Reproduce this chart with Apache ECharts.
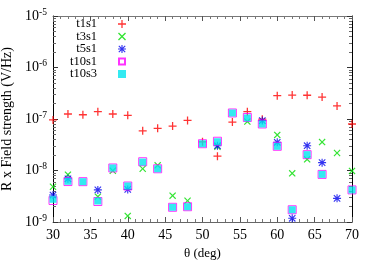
<!DOCTYPE html>
<html><head><meta charset="utf-8">
<script src="https://cdn.jsdelivr.net/npm/echarts@6/dist/echarts.min.js"></script>
<style>html,body{margin:0;padding:0;background:#fff}#c{width:374px;height:262px}</style>
</head><body><div id="c"></div>
<script>
const angles = [30,32,34,36,38,40,42,44,46,48,50,52,54,56,58,60,62,64,66,68,70];
const t1s1 = [9.6e-8,1.25e-7,1.21e-7,1.39e-7,1.25e-7,1.18e-7,5.9e-8,6.6e-8,7.3e-8,9.4e-8,3.6e-8,1.9e-8,8.7e-8,1.39e-7,9.9e-8,2.83e-7,2.92e-7,2.89e-7,2.67e-7,1.79e-7,8.0e-8];
const t3s1 = [4.84e-9,8.3e-9,null,3.1e-9,9.9e-9,1.31e-9,1.08e-8,1.26e-8,3.24e-9,2.59e-9,null,2.9e-8,null,8.9e-8,null,4.9e-8,8.8e-9,1.65e-8,3.57e-8,2.19e-8,9.8e-9];
const t5s1 = [3.34e-9,6.9e-9,null,4.2e-9,null,4.3e-9,null,null,null,null,null,3.03e-8,null,null,9.3e-8,3.53e-8,1.18e-9,3.03e-8,1.42e-8,2.88e-9,null];
const t10s1 = [2.62e-9,6.1e-9,6.07e-9,2.5e-9,1.12e-8,5.0e-9,1.48e-8,1.08e-8,1.93e-9,1.98e-9,3.31e-8,3.7e-8,1.31e-7,1.07e-7,8.0e-8,2.95e-8,1.73e-9,2.03e-8,8.4e-9,null,4.2e-9];
const t10s3 = [2.76e-9,6.17e-9,6.07e-9,2.56e-9,1.12e-8,5.0e-9,1.46e-8,1.08e-8,1.93e-9,1.98e-9,3.31e-8,3.62e-8,1.31e-7,1.05e-7,8.0e-8,2.95e-8,1.73e-9,2.03e-8,8.4e-9,null,4.2e-9];
const seriesNames = ['t1s1','t3s1','t5s1','t10s1','t10s3'];
const xTitle = 'θ (deg)';
const yTitle = 'R x Field strength (V/Hz)';

const FONT = 'Liberation Serif';
const PLUS = 'path://M4.2,0H5.8V4.2H10V5.8H5.8V10H4.2V5.8H0V4.2H4.2Z';
const CROSS = 'path://M0,1.2L1.2,0L5,3.8L8.8,0L10,1.2L6.2,5L10,8.8L8.8,10L5,6.2L1.2,10L0,8.8L3.8,5Z';
const STAR = 'path://M4.3,0H5.7V10H4.3Z M0,4.3H10V5.7H0Z M0.5,1.5L1.5,0.5L9.5,8.5L8.5,9.5Z M8.5,0.5L9.5,1.5L1.5,9.5L0.5,8.5Z';

const minorVals = [];
for (let d=-9; d<=-6; d++) for (let k=2; k<=9; k++) minorVals.push(k*Math.pow(10,d));

function pts(arr){ return angles.map((a,i)=>arr[i]==null?null:[a,arr[i]]).filter(p=>p); }

const styles = [
  {symbol:PLUS, symbolSize:8, itemStyle:{color:'#ff0000'}},
  {symbol:CROSS, symbolSize:7, itemStyle:{color:'#00dd00'}},
  {symbol:STAR, symbolSize:8, itemStyle:{color:'#0000ee'}},
  {symbol:'rect', symbolSize:8, itemStyle:{color:'rgba(0,0,0,0)', borderColor:'#ff00ff', borderWidth:1}},
  {symbol:'rect', symbolSize:7, itemStyle:{color:'#00e5ee'}}
];
const datas = [t1s1,t3s1,t5s1,t10s1,t10s3];

const series = seriesNames.map((n,i)=>Object.assign({
  name:n, type:'scatter', xAxisIndex:0, yAxisIndex:0, data:pts(datas[i]), animation:false
}, styles[i]));

const legends = seriesNames.map((n,i)=>({
  data:[{name:n, icon: styles[i].symbol}],
  orient:'vertical', align:'right',
  right: 248, top: 17.5 + i*12.5,
  itemWidth: i===3 ? 6 : 8, itemHeight: i===3 ? 6 : 8, padding:0,
  textStyle:{fontFamily:FONT, fontSize:12.5, color:'#000', padding:[0, i===3 ? 17 : 16, 0, 0]}
}));

const xBase = {type:'value', min:30, max:70, interval:5, gridIndex:0,
  splitLine:{show:false}};
const yBase = {type:'log', logBase:10, min:1e-9, max:1e-5, gridIndex:0, splitLine:{show:false}};

const option = {
  animation:false,
  grid:{left:53, right:22, top:16, bottom:40, containLabel:false, outerBoundsMode:'none'},
  legend: legends,
  xAxis:[
    Object.assign({}, xBase, {position:'bottom', name:xTitle, nameLocation:'middle', nameGap:20,
      nameTextStyle:{fontFamily:FONT, fontSize:13, color:'#000'},
      axisLine:{lineStyle:{color:'#666', width:1}},
      axisTick:{inside:true, length:5, lineStyle:{color:'#555'}},
      minorTick:{show:true, splitNumber:5, length:3, lineStyle:{color:'#777'}},
      axisLabel:{fontFamily:FONT, fontSize:14, color:'#000', margin:6}}),
    Object.assign({}, xBase, {position:'top',
      axisLine:{lineStyle:{color:'#777', width:1}},
      axisTick:{inside:true, length:5, lineStyle:{color:'#555'}},
      minorTick:{show:true, splitNumber:5, length:3, lineStyle:{color:'#777'}},
      axisLabel:{show:false}})
  ],
  yAxis:[
    Object.assign({}, yBase, {position:'left', name:yTitle, nameLocation:'middle', nameGap:32,
      nameTextStyle:{fontFamily:FONT, fontSize:14, color:'#000'},
      axisLine:{show:true, lineStyle:{color:'#000', width:1}},
      axisTick:{inside:true, length:5, lineStyle:{color:'#333'}},
      axisLabel:{margin:6, fontFamily:FONT, color:'#000',
        formatter:function(v){ const e=Math.round(Math.log10(v)); return '{b|10}{s|'+e+'}'; },
        rich:{b:{fontFamily:FONT, fontSize:14, color:'#000'}, s:{fontFamily:FONT, fontSize:9.5, color:'#000', padding:[0,0,8,0]}}}}),
    Object.assign({}, yBase, {position:'left',
      axisLine:{show:false},
      axisTick:{inside:true, length:3, customValues:minorVals, lineStyle:{color:'#666'}},
      axisLabel:{show:false}}),
    Object.assign({}, yBase, {position:'right',
      axisLine:{show:true, lineStyle:{color:'#000', width:1}},
      axisTick:{inside:true, length:5, lineStyle:{color:'#333'}},
      axisLabel:{show:false}}),
    Object.assign({}, yBase, {position:'right',
      axisLine:{show:false},
      axisTick:{inside:true, length:3, customValues:minorVals, lineStyle:{color:'#666'}},
      axisLabel:{show:false}})
  ],
  series: series
};
const chart = echarts.init(document.getElementById('c'), null, {renderer:'canvas'});
chart.setOption(option);
</script></body></html>
